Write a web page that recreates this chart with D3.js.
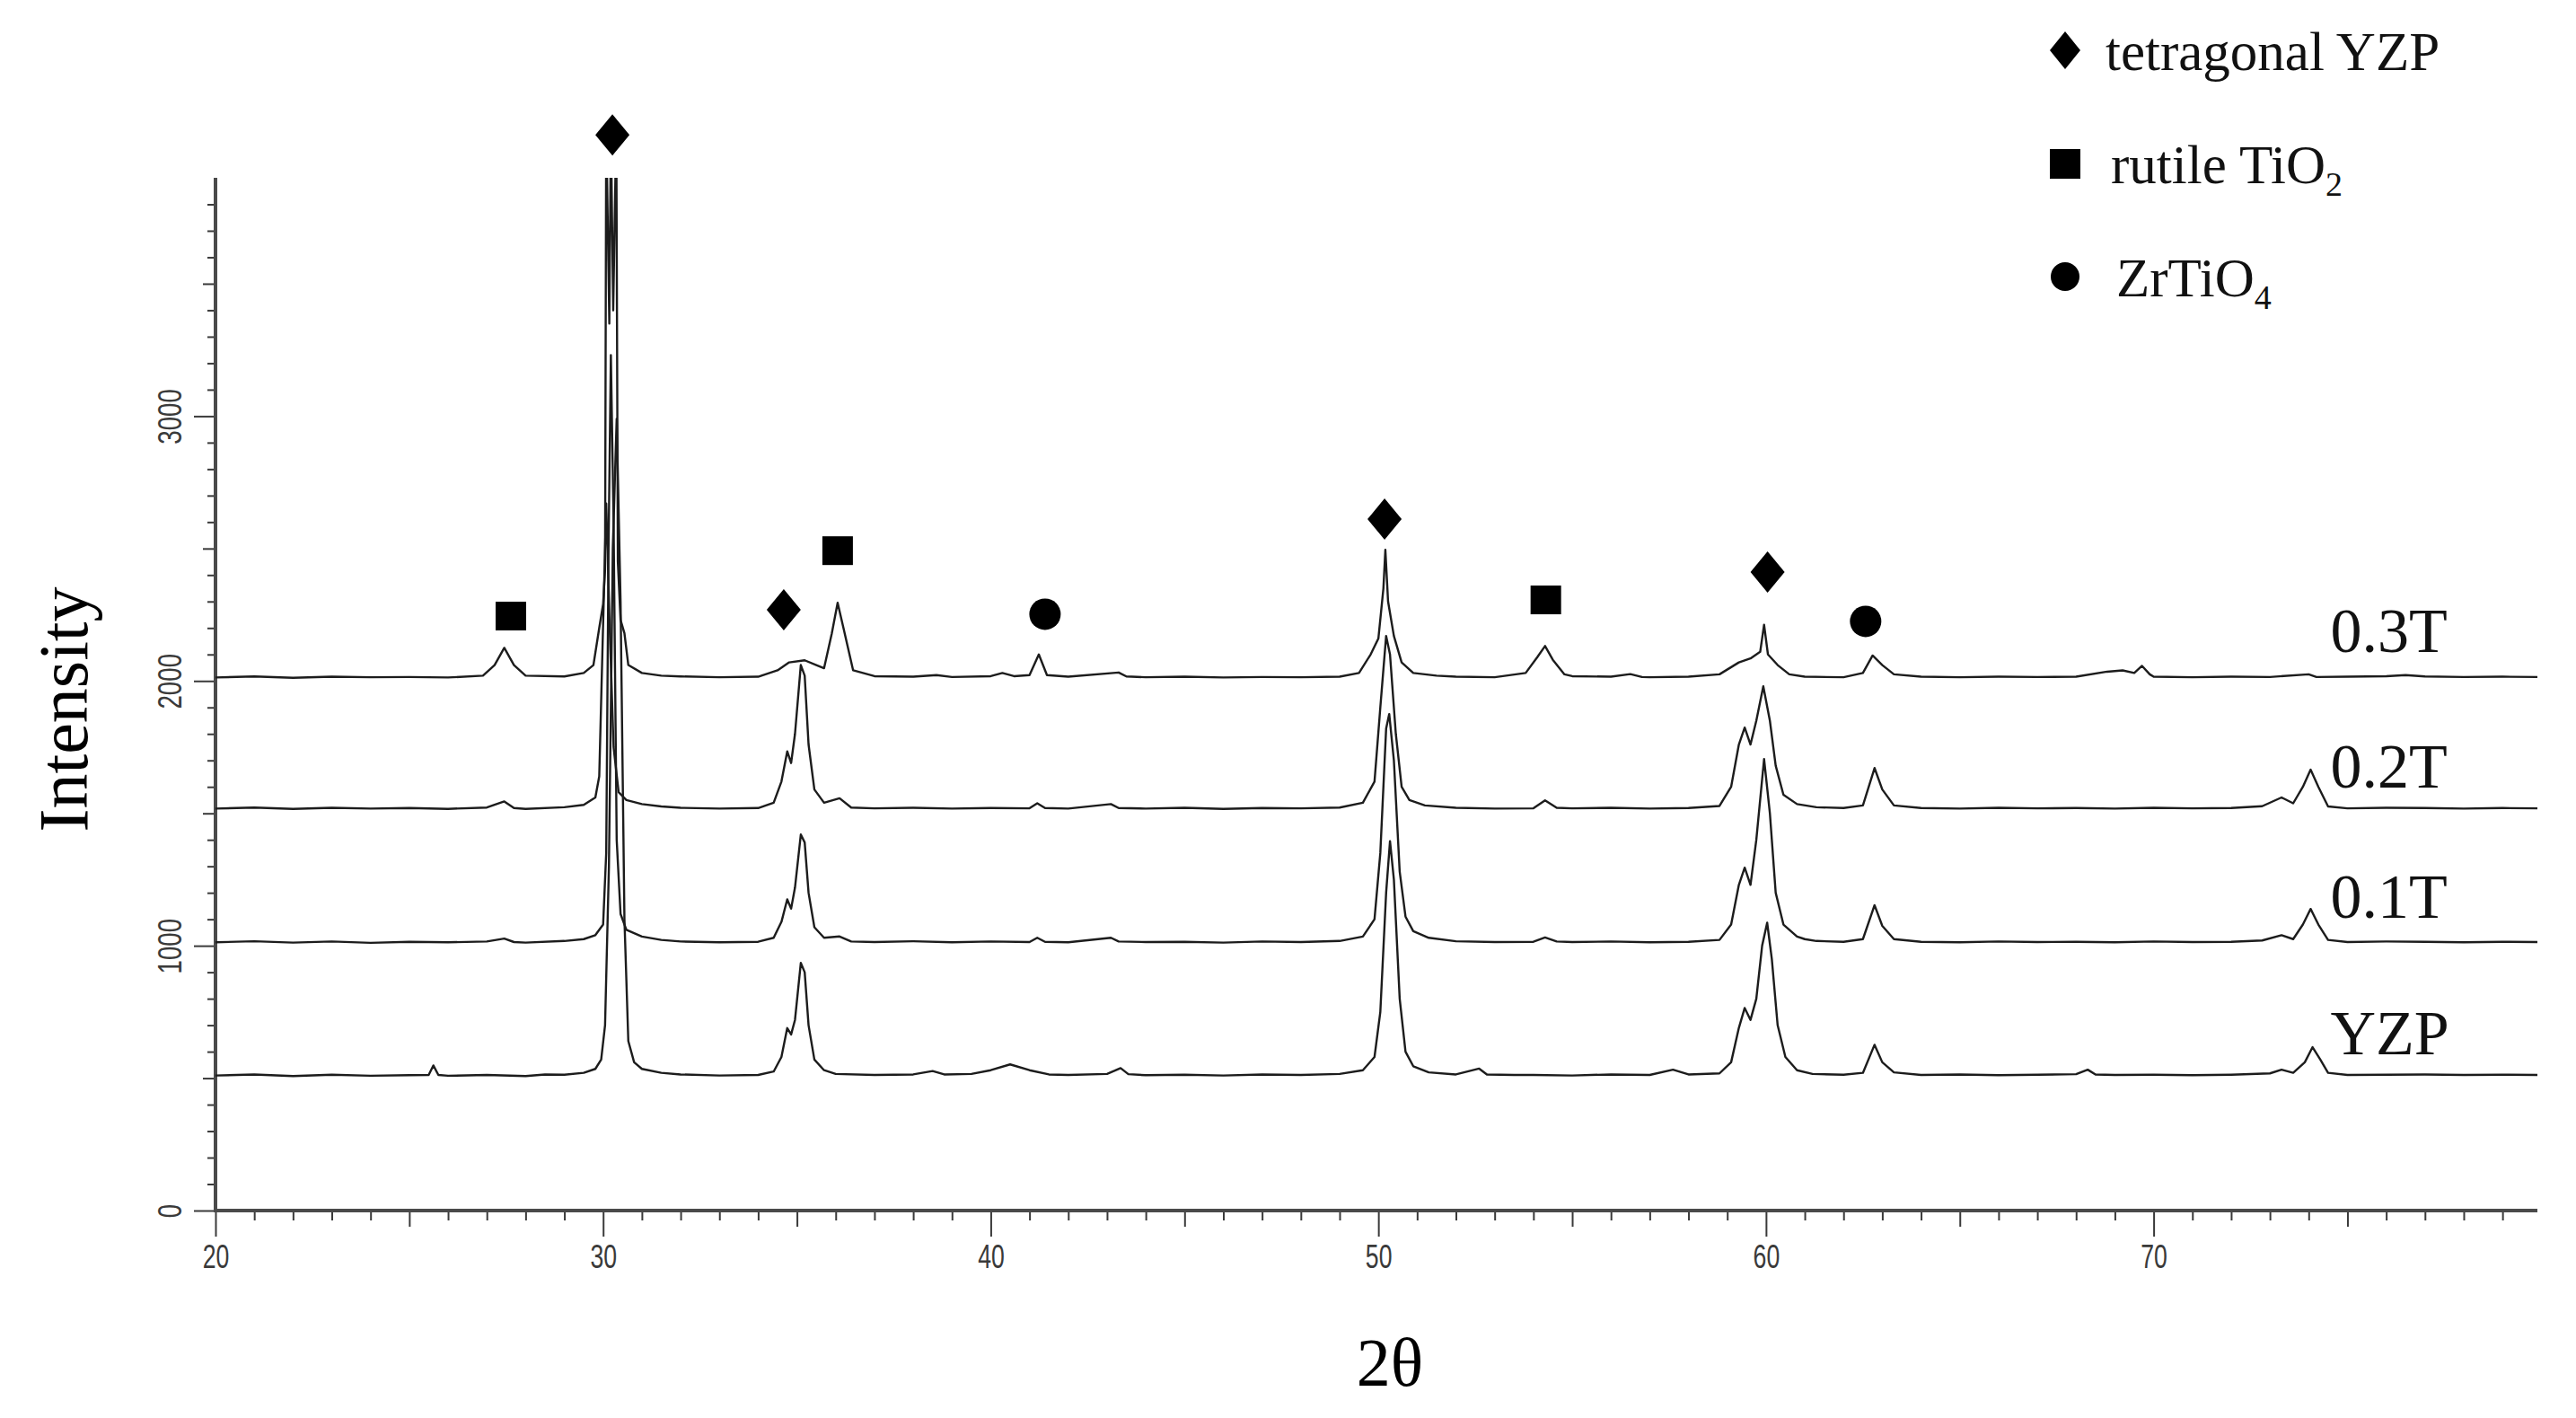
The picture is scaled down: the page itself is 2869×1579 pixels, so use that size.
<!DOCTYPE html>
<html>
<head>
<meta charset="utf-8">
<script src="https://cdn.jsdelivr.net/npm/d3@7"></script>
<style>
  body { margin: 0; background: #fff; }
  svg { display: block; }
</style>
</head>
<body>
<div id="xrd-chart"></div>
<script>
// Data: [2theta, intensity], curves already offset
const yzp = [[20,510],[21,514],[22,508],[23,513],[24,509],[25,511],[25.5,512],[25.62,548],[25.75,512],[26,509],[27,512],[28,508],[28.5,514],[29,513],[29.5,520],[29.8,535],[29.95,570],[30.05,700],[30.15,1300],[30.25,2500],[30.35,2990],[30.45,2300],[30.55,1100],[30.65,640],[30.8,560],[31,535],[31.5,520],[32,514],[33,510],[34,512],[34.4,525],[34.6,580],[34.75,689],[34.85,665],[34.95,720],[35.1,935],[35.2,900],[35.3,700],[35.45,570],[35.7,530],[36,516],[37,512],[38,514],[38.5,527],[38.8,514],[39.5,516],[40,530],[40.5,552],[41,530],[41.5,514],[42,512],[43,516],[43.35,538],[43.55,515],[44,511],[45,513],[46,510],[47,514],[48,512],[49,516],[49.6,530],[49.9,580],[50.05,750],[50.2,1200],[50.3,1395],[50.4,1250],[50.55,800],[50.7,600],[50.9,545],[51.3,522],[52,514],[52.6,536],[52.8,514],[53.5,512],[54,512],[55,510],[56,514],[57,512],[57.6,532],[58,514],[58.8,518],[59.1,560],[59.3,690],[59.45,765],[59.6,720],[59.75,800],[59.9,1000],[60.03,1087],[60.15,950],[60.3,700],[60.5,580],[60.8,530],[61.2,516],[62,513],[62.5,520],[62.8,626],[63,560],[63.3,522],[64,512],[65,514],[66,511],[67,513],[68,515],[68.3,532],[68.5,514],[69,512],[70,513],[71,511],[72,513],[73,518],[73.3,532],[73.6,520],[73.9,560],[74.1,617],[74.3,570],[74.5,520],[75,512],[76,513],[77,514],[78,512],[79,513],[79.9,512]];

const t01 = [[20,1013],[21,1017],[22,1012],[23,1016],[24,1011],[25,1015],[26,1013],[27,1016],[27.45,1027],[27.7,1014],[28,1012],[29,1018],[29.5,1025],[29.8,1040],[30,1080],[30.08,1350],[30.14,2500],[30.2,3230],[30.27,2600],[30.35,1400],[30.45,1120],[30.6,1060],[31,1035],[31.5,1022],[32,1016],[33,1013],[34,1015],[34.4,1030],[34.6,1090],[34.75,1175],[34.85,1140],[34.95,1220],[35.1,1420],[35.2,1390],[35.3,1200],[35.45,1070],[35.7,1030],[36.1,1035],[36.4,1016],[37,1014],[38,1017],[39,1013],[40,1016],[41,1014],[41.2,1030],[41.4,1015],[42,1013],[43.1,1030],[43.3,1016],[44,1014],[45,1015],[46,1012],[47,1016],[48,1014],[49,1018],[49.6,1035],[49.9,1100],[50.05,1350],[50.2,1820],[50.28,1875],[50.4,1700],[50.55,1280],[50.7,1110],[50.9,1055],[51.3,1030],[52,1017],[53,1014],[54,1015],[54.3,1031],[54.6,1016],[55,1014],[56,1016],[57,1013],[58,1015],[58.8,1022],[59.1,1080],[59.3,1230],[59.45,1295],[59.6,1230],[59.75,1400],[59.95,1705],[60.1,1500],[60.25,1200],[60.45,1080],[60.8,1035],[61,1025],[61.3,1018],[62,1015],[62.5,1025],[62.8,1153],[63,1075],[63.3,1025],[64,1015],[65,1013],[66,1016],[67,1014],[68,1015],[69,1013],[70,1016],[71,1014],[72,1015],[72.8,1020],[73.3,1040],[73.6,1025],[73.85,1080],[74.05,1139],[74.25,1080],[74.5,1022],[75,1014],[76,1016],[77,1015],[78,1013],[79,1015],[79.9,1014]];

const t02 = [[20,1518],[21,1522],[22,1517],[23,1521],[24,1518],[25,1520],[26,1517],[27,1522],[27.45,1545],[27.7,1520],[28,1517],[29,1523],[29.5,1532],[29.8,1560],[29.9,1640],[29.98,2100],[30.08,2670],[30.17,2200],[30.27,1750],[30.4,1580],[30.6,1550],[31,1535],[31.5,1526],[32,1521],[33,1518],[34,1520],[34.4,1540],[34.6,1620],[34.75,1734],[34.85,1690],[34.95,1800],[35.1,2060],[35.2,2020],[35.3,1760],[35.45,1590],[35.7,1540],[36.1,1557],[36.4,1522],[37,1519],[38,1521],[39,1518],[40,1520],[41,1519],[41.2,1538],[41.4,1520],[42,1518],[43.1,1535],[43.3,1520],[44,1518],[45,1521],[46,1517],[47,1520],[48,1519],[49,1522],[49.6,1540],[49.9,1620],[50.05,1900],[50.2,2170],[50.3,2100],[50.45,1800],[50.6,1600],[50.8,1550],[51.2,1530],[52,1521],[53,1518],[54,1519],[54.3,1549],[54.6,1521],[55,1519],[56,1521],[57,1518],[58,1520],[58.8,1528],[59.1,1600],[59.3,1760],[59.45,1824],[59.6,1760],[59.75,1850],[59.93,1980],[60.1,1850],[60.25,1680],[60.45,1570],[60.8,1535],[61.3,1523],[62,1520],[62.5,1530],[62.8,1671],[63,1590],[63.3,1530],[64,1520],[65,1518],[66,1521],[67,1519],[68,1520],[69,1518],[70,1521],[71,1519],[72,1520],[72.8,1527],[73.3,1560],[73.6,1538],[73.85,1600],[74.05,1665],[74.25,1600],[74.5,1526],[75,1519],[76,1521],[77,1520],[78,1518],[79,1520],[79.9,1519]];

// the 0.3T main reflection runs off the top of the axis
const t03 = [[20,2013],[21,2017],[22,2012],[23,2016],[24,2014],[25,2015],[26,2013],[26.9,2020],[27.2,2060],[27.45,2125],[27.7,2060],[28,2020],[29,2017],[29.5,2030],[29.75,2060],[29.9,2200],[30,2290],[30.05,2420],[30.08,4100],[30.16,3350],[30.2,4100],[30.26,3400],[30.34,4100],[30.38,2450],[30.45,2230],[30.55,2180],[30.65,2060],[31,2030],[31.5,2020],[32,2017],[33,2014],[34,2016],[34.5,2040],[34.8,2070],[35.2,2078],[35.5,2060],[35.7,2048],[35.9,2180],[36.05,2295],[36.2,2200],[36.45,2040],[37,2018],[38,2016],[38.6,2022],[39,2015],[40,2018],[40.3,2030],[40.6,2018],[41,2022],[41.24,2100],[41.45,2022],[42,2016],[43.3,2032],[43.5,2017],[44,2014],[45,2016],[46,2013],[47,2015],[48,2014],[49,2016],[49.5,2030],[49.8,2100],[50,2160],[50.13,2350],[50.18,2495],[50.25,2300],[50.4,2170],[50.6,2070],[50.9,2030],[51.5,2020],[52,2016],[53,2014],[53.8,2030],[54.1,2090],[54.3,2132],[54.5,2080],[54.8,2025],[55,2018],[56,2016],[56.5,2026],[56.8,2015],[57,2014],[58,2016],[58.8,2025],[59.3,2070],[59.6,2085],[59.85,2110],[59.95,2212],[60.05,2100],[60.3,2060],[60.6,2025],[61,2016],[62,2014],[62.5,2030],[62.75,2096],[63,2060],[63.3,2025],[64,2016],[65,2014],[66,2016],[67,2015],[68,2016],[68.8,2035],[69.2,2040],[69.5,2030],[69.7,2057],[69.9,2025],[70,2016],[71,2014],[72,2016],[73,2015],[74,2025],[74.2,2015],[75,2016],[76,2018],[76.5,2022],[77,2017],[78,2015],[79,2016],[79.9,2015]];

const seriesNames = ['YZP', '0.1T', '0.2T', '0.3T'];
const seriesData = [yzp, t01, t02, t03];
const labelX = 74.56;
const labelY = [590, 1105, 1597, 2109];

// phase markers, placed above the 0.3T peaks
const tetragonalMarks = [[30.24, 4062], [34.66, 2269], [50.16, 2611], [60.04, 2411]];
const rutileMarks = [[27.62, 2245], [36.05, 2492], [54.32, 2306]];
const zrtio4Marks = [[41.4, 2252], [62.57, 2225]];

const xMajorTicks = [20, 30, 40, 50, 60, 70];
const yMajorTicks = [0, 1000, 2000, 3000];

// Dimensions
const WIDTH = 2586;
const HEIGHT = 1150;
const MARGIN = { TOP: 198, BOTTOM: 231, LEFT: 240, RIGHT: 43 };
const SERIF = "'Liberation Serif', 'Times New Roman', serif";
const SANS = "'Liberation Sans', Arial, sans-serif";

const root = d3
  .select('#xrd-chart')
  .append('svg')
  .attr('width', WIDTH + MARGIN.LEFT + MARGIN.RIGHT)
  .attr('height', HEIGHT + MARGIN.TOP + MARGIN.BOTTOM);

const svg = root
  .append('g')
  .attr('transform', `translate(${MARGIN.LEFT}, ${MARGIN.TOP})`);

svg.append('clipPath').attr('id', 'plot-clip')
  .append('rect').attr('x', 0).attr('y', 0).attr('width', WIDTH).attr('height', HEIGHT);

// Scales
const x = d3.scaleLinear().domain([20, 79.9]).range([0, WIDTH]);
const y = d3.scaleLinear().domain([0, 3900]).range([HEIGHT, 0]);

// X axis: minor (1), medium (5), major (10)
const xg = svg.append('g').attr('transform', `translate(0, ${HEIGHT})`);
xg.append('g').call(
  d3.axisBottom(x).tickValues(d3.range(21, 80).filter((d) => d % 5 !== 0)).tickSize(11).tickFormat('')
);
xg.append('g').call(
  d3.axisBottom(x).tickValues([25, 35, 45, 55, 65, 75]).tickSize(18).tickFormat('')
);
const xMajor = xg.append('g').call(
  d3.axisBottom(x).tickValues(xMajorTicks).tickSize(29).tickSizeOuter(0).tickPadding(9).tickFormat(d3.format('d'))
);
xg.selectAll('.domain').remove();
xg.append('line')
  .attr('x1', -2).attr('x2', WIDTH)
  .attr('stroke', '#4a4a4a').attr('stroke-width', 4);
xMajor.selectAll('text')
  .attr('transform', 'scale(0.72,1)')
  .style('font-family', SANS).style('font-size', '37px').attr('fill', '#3a3a3a');

// Y axis: minor (100), medium (500), major (1000)
const yg = svg.append('g');
yg.append('g').call(
  d3.axisLeft(y).tickValues(d3.range(100, 3900, 100).filter((d) => d % 500 !== 0)).tickSize(9).tickFormat('')
);
yg.append('g').call(
  d3.axisLeft(y).tickValues([500, 1500, 2500, 3500]).tickSize(14).tickFormat('')
);
const yMajor = yg.append('g').call(
  d3.axisLeft(y).tickValues(yMajorTicks).tickSize(24).tickSizeOuter(0).tickFormat(d3.format('d'))
);
yg.selectAll('.domain').remove();
yg.append('line')
  .attr('y1', 0).attr('y2', HEIGHT + 2)
  .attr('stroke', '#4a4a4a').attr('stroke-width', 4);
yMajor.selectAll('text')
  .attr('x', 0).attr('dy', 0)
  .attr('text-anchor', 'middle')
  .attr('transform', 'translate(-38,0) rotate(-90) scale(0.75,1)')
  .style('font-family', SANS).style('font-size', '37px').attr('fill', '#3a3a3a');

svg.selectAll('.tick line').attr('stroke', '#3a3a3a').attr('stroke-width', 2);

// Curves
const line = d3.line().x((d) => x(d[0])).y((d) => y(d[1]));
svg
  .append('g')
  .attr('clip-path', 'url(#plot-clip)')
  .selectAll('path.curve')
  .data(seriesData)
  .enter()
  .append('path')
  .attr('class', 'curve')
  .attr('d', line)
  .attr('fill', 'none')
  .attr('stroke', '#1c1c1c')
  .attr('stroke-width', 2.4)
  .attr('stroke-linejoin', 'round');

// Curve labels
svg
  .selectAll('text.series')
  .data(seriesNames)
  .enter()
  .append('text')
  .attr('class', 'series')
  .attr('x', x(labelX))
  .attr('y', (d, i) => y(labelY[i]))
  .style('font-family', SERIF)
  .style('font-size', '70px')
  .attr('fill', '#111')
  .text((d) => d);

// Markers
const diamondPath = (w, h) => `M0,${-h / 2}L${w / 2},0L0,${h / 2}L${-w / 2},0Z`;
svg.selectAll('path.tet').data(tetragonalMarks).enter().append('path')
  .attr('class', 'tet')
  .attr('d', diamondPath(38, 46))
  .attr('transform', (d) => `translate(${x(d[0])}, ${y(d[1])})`)
  .attr('fill', '#000');
svg.selectAll('rect.rut').data(rutileMarks).enter().append('rect')
  .attr('class', 'rut')
  .attr('x', (d) => x(d[0]) - 17).attr('y', (d) => y(d[1]) - 16)
  .attr('width', 34).attr('height', 32)
  .attr('fill', '#000');
svg.selectAll('circle.zrt').data(zrtio4Marks).enter().append('circle')
  .attr('class', 'zrt')
  .attr('cx', (d) => x(d[0])).attr('cy', (d) => y(d[1]))
  .attr('r', 17.5)
  .attr('fill', '#000');

// Axis titles
root.append('text')
  .attr('transform', 'translate(97, 790) rotate(-90)')
  .attr('text-anchor', 'middle')
  .style('font-family', SERIF).style('font-size', '78px')
  .text('Intensity');
root.append('text')
  .attr('x', 1548).attr('y', 1543)
  .attr('text-anchor', 'middle')
  .style('font-family', SERIF).style('font-size', '76px')
  .text('2θ');

// Legend
const legendItems = [
  { shape: 'diamond', text: 'tetragonal YZP', sub: '' },
  { shape: 'square', text: 'rutile TiO', sub: '2' },
  { shape: 'circle', text: 'ZrTiO', sub: '4' },
];
const legend = root.append('g').attr('transform', 'translate(2300, 56)');
legendItems.forEach((item, i) => {
  const row = legend.append('g').attr('transform', `translate(0, ${i * 126})`);
  if (item.shape === 'diamond') {
    row.append('path').attr('d', diamondPath(34, 42)).attr('fill', '#000');
  } else if (item.shape === 'square') {
    row.append('rect').attr('x', -17).attr('y', -16).attr('width', 34).attr('height', 33).attr('fill', '#000');
  } else {
    row.append('circle').attr('r', 16).attr('fill', '#000');
  }
  const t = row.append('text')
    .attr('x', 45 + i * 6).attr('y', 22)
    .style('font-family', SERIF).style('font-size', '61px')
    .attr('fill', '#111')
    .text(item.text);
  if (item.sub) {
    t.append('tspan').attr('dy', 14).style('font-size', '38px').text(item.sub);
  }
});
</script>
</body>
</html>
